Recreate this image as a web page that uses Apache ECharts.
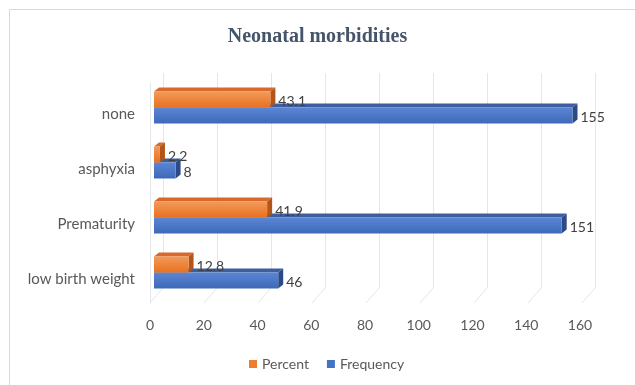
<!DOCTYPE html>
<html><head><meta charset="utf-8">
<script src="https://cdn.jsdelivr.net/npm/echarts@6/dist/echarts.min.js"></script>
<style>html,body{margin:0;padding:0;background:#fff}#c{width:635px;height:385px}</style>
</head><body><div id="c"></div>
<script>
const categories = ['low birth weight', 'Prematurity', 'asphyxia', 'none'];
const percent = [12.8, 41.9, 2.2, 43.1];
const frequency = [46, 151, 8, 155];
const xTicks = [0, 20, 40, 60, 80, 100, 120, 140, 160];
const seriesNames = ['Percent', 'Frequency'];

const FONT = 'Lato, "Liberation Sans", Arial, sans-serif';
const DX = 5, DY = -4, BW = 16;

function barRenderer(kind) {
  const pal = kind === 0
    ? { top: '#F29A5A', bot: '#E8711F', topFace: '#D8692A', side: '#B35518' }
    : { top: '#5B86D6', bot: '#3E69B8', topFace: '#3F5E9E', side: '#2C4A87' };
  return function (params, api) {
    const v = api.value(1);
    const c = api.value(0);
    const p0 = api.coord([0, c]);
    const p1 = api.coord([v, c]);
    const y0 = kind === 0 ? p0[1] - BW : p0[1];
    const x0 = p0[0], x1 = p1[0];
    const h = BW;
    return {
      type: 'group',
      children: [
        { type: 'polygon', shape: { points: [[x0, y0], [x1, y0], [x1 + DX, y0 + DY], [x0 + DX, y0 + DY]] },
          style: { fill: pal.topFace } },
        { type: 'polygon', shape: { points: [[x1, y0], [x1 + DX, y0 + DY], [x1 + DX, y0 + h + DY], [x1, y0 + h]] },
          style: { fill: pal.side } },
        { type: 'rect', shape: { x: x0, y: y0, width: Math.max(x1 - x0, 0.5), height: h },
          style: { fill: new echarts.graphic.LinearGradient(0, 0, 0, 1, [
            { offset: 0, color: pal.top }, { offset: 1, color: pal.bot }]) } },
        { type: 'text', x: x1 + DX + 3, y: y0 + h / 2 + 2,
          style: { text: String(v), fill: '#404040', font: '14px ' + FONT, verticalAlign: 'middle', align: 'left' } }
      ]
    };
  };
}

const chart = echarts.init(document.getElementById('c'), null, { renderer: 'canvas' });
chart.setOption({
  animation: false,
  backgroundColor: '#fff',
  title: {
    text: 'Neonatal morbidities', left: 'center', top: 22,
    textStyle: { fontFamily: '"Liberation Serif", "Times New Roman", serif', fontWeight: 'bold', fontSize: 20, color: '#44546A' }
  },
  graphic: [{ type: 'rect', shape: { x: 9.5, y: 9.5, width: 700, height: 500 },
    style: { fill: 'none', stroke: '#D9D9D9', lineWidth: 1 }, silent: true, z: -10 }],
  legend: {
    data: seriesNames, bottom: 9, left: 244, icon: 'rect', itemWidth: 8, itemHeight: 8, itemGap: 18,
    textStyle: { color: '#595959', fontSize: 14, fontFamily: FONT }
  },
  grid: [
    { left: 154, right: 49, top: 80, bottom: 85 },
    { left: 163, right: 40, top: 73, bottom: 97 },
    { left: 150, right: 55, top: 83, bottom: 82 },
    { left: 150, right: 55, top: 87, bottom: 78 }
  ],
  xAxis: [
    { gridIndex: 0, type: 'value', min: 0, max: 160, interval: 20, show: false },
    { gridIndex: 1, type: 'value', min: 0, max: 160, interval: 20,
      axisLine: { show: false }, axisTick: { show: false }, axisLabel: { show: false },
      splitLine: { show: true, lineStyle: { color: '#E3E6EB', width: 1 } } },
    { gridIndex: 2, type: 'value', min: 0, max: 160, interval: 20,
      axisLine: { show: false }, axisTick: { show: false }, splitLine: { show: false },
      axisLabel: { color: '#595959', fontSize: 14, fontFamily: FONT, margin: 15 } },
    { gridIndex: 3, type: 'value', min: 0, max: 160, interval: 20, show: false }
  ],
  yAxis: [
    { gridIndex: 0, type: 'category', data: categories, show: false },
    { gridIndex: 1, type: 'value', min: 0, max: 1, show: false },
    { gridIndex: 2, type: 'category', data: categories,
      axisLine: { show: true, lineStyle: { color: '#E3E6EB' } }, axisTick: { show: false },
      splitLine: { show: false }, axisLabel: { show: false } },
    { gridIndex: 3, type: 'category', data: categories,
      axisLine: { show: false }, axisTick: { show: false }, splitLine: { show: false },
      axisLabel: { color: '#595959', fontSize: 15, fontFamily: FONT, margin: 15 } }
  ],
  series: [
    { type: 'custom', name: 'floor', xAxisIndex: 1, yAxisIndex: 1, silent: true,
      data: xTicks.map(t => [t, 0]),
      renderItem: function (params, api) {
        const p = api.coord([api.value(0), 0]);
        return { type: 'line', shape: { x1: p[0], y1: p[1], x2: p[0] - 13, y2: p[1] + 15 },
          style: { stroke: '#E3E6EB', lineWidth: 1 } };
      } },
    { type: 'custom', name: 'Frequency', xAxisIndex: 0, yAxisIndex: 0, itemStyle: { color: '#4472C4' },
      data: frequency.map((v, i) => [i, v]), encode: { x: 1, y: 0 }, renderItem: barRenderer(1), z: 3 },
    { type: 'custom', name: 'Percent', xAxisIndex: 0, yAxisIndex: 0, itemStyle: { color: '#ED7D31' },
      data: percent.map((v, i) => [i, v]), encode: { x: 1, y: 0 }, renderItem: barRenderer(0), z: 4 }
  ]
});
</script></body></html>
